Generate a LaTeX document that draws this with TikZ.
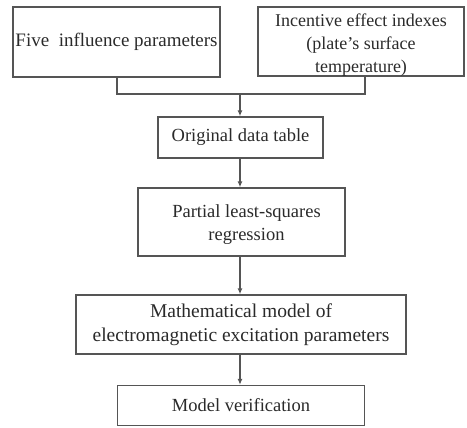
\documentclass[tikz,border=0pt]{standalone}
\usepackage{fontspec}
\setmainfont{Liberation Serif}
\usetikzlibrary{arrows.meta}
\definecolor{linegray}{HTML}{555555}
\definecolor{textgray}{HTML}{2A2A2A}
\tikzset{
  box/.style={draw=linegray, line width=1.4pt, rectangle, inner sep=0pt, align=center,
    text=textgray, font=\fontsize{18.5}{23}\selectfont},
  txt/.style={inner sep=0pt, align=center, text=textgray, font=\fontsize{18.5}{23}\selectfont},
  conn/.style={draw=linegray, line width=1.4pt},
  arr/.style={conn, -{Latex[length=6pt,width=5pt]}}
}
\begin{document}
\begin{tikzpicture}[x=1pt,y=-1pt]
\useasboundingbox (0,0) rectangle (467,428);
\node[box, minimum width=207pt, minimum height=70pt, font=\fontsize{19}{23}\selectfont] (b1) at (116.5,42) {Five\ \ influence parameters};
\node[box, minimum width=206pt, minimum height=69pt] (b2) at (361,41.5) {};
\node[txt, font=\fontsize{18}{23}\selectfont] (t2) at ([yshift=-4pt]b2.center) {Incentive effect indexes\\(plate's surface\\temperature)};
\node[box, minimum width=165pt, minimum height=41pt] (b3) at (240.5,137.5) {Original data table};
\node[box, minimum width=207pt, minimum height=68pt] (b4) at (241.5,222) {};
\node[txt] (t4) at ([xshift=5pt,yshift=-3pt]b4.center) {Partial least-squares\\regression};
\node[box, minimum width=330pt, minimum height=59pt, font=\fontsize{19.5}{24}\selectfont] (b5) at (241,324.5) {Mathematical model of\\electromagnetic excitation parameters};
\node[box, minimum width=247pt, minimum height=40pt] (b6) at (241,405.5) {Model verification};
\coordinate (j1) at (117,94);
\coordinate (j2) at (365,94);
\coordinate (jm) at (240,94);
\draw[conn] (b1.south -| j1) -- (j1) -- (j2) -- (b2.south -| j2);
\draw[arr] (jm) -- (b3.north -| jm);
\draw[arr] (b3.south -| jm) -- (b4.north -| jm);
\draw[arr] (b4.south -| jm) -- (b5.north -| jm);
\draw[arr] (b5.south -| jm) -- (b6.north -| jm);
\end{tikzpicture}
\end{document}
